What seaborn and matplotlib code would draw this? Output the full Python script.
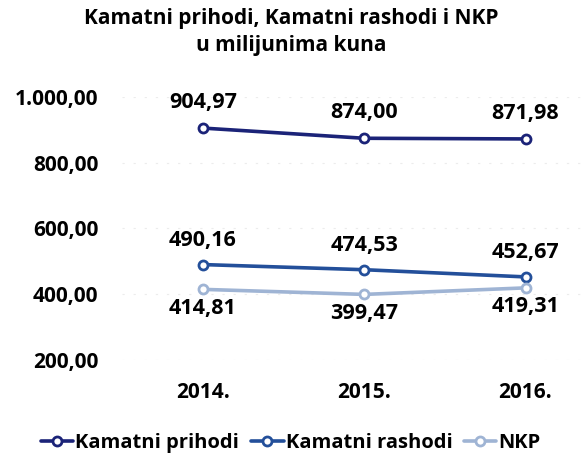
import matplotlib.pyplot as plt
import pandas as pd
import seaborn as sns

years = ["2014.", "2015.", "2016."]
prihodi = [904.97, 874.00, 871.98]
rashodi = [490.16, 474.53, 452.67]
nkp = [414.81, 399.47, 419.31]
series = ["Kamatni prihodi", "Kamatni rashodi", "NKP"]
colors = ["#1b2378", "#234f9a", "#9fb4d4"]
values = [prihodi, rashodi, nkp]


def fmt(v):
    s = f"{v:,.2f}"
    return s.replace(",", "X").replace(".", ",").replace("X", ".")


sns.set_style("white")
plt.rcParams["font.family"] = ["Open Sans", "DejaVu Sans"]
plt.rcParams["text.color"] = "black"
plt.rcParams["xtick.color"] = "black"
plt.rcParams["ytick.color"] = "black"

fig = plt.figure(figsize=(5.82, 4.61), dpi=100)
ax = fig.add_axes([0.21, 0.219, 0.79, 0.571])

for name, vals, col in zip(series, values, colors):
    df = pd.DataFrame({"godina": years, "iznos": vals})
    sns.lineplot(data=df, x="godina", y="iznos", color=col, marker="o", markersize=6.5,
                 markerfacecolor="white", markeredgecolor=col, markeredgewidth=2,
                 linewidth=2.6, ax=ax, sort=False)

ax.set_xlim(-0.5, 2.35)
ax.set_ylim(200, 1000)
ax.set_yticks([200, 400, 600, 800, 1000])
ax.set_yticklabels([fmt(v) for v in [200, 400, 600, 800, 1000]],
                   fontsize=15, fontweight="bold")
ax.set_xticks(range(3))
ax.set_xticklabels(years, fontsize=15, fontweight="bold")
ax.tick_params(axis="y", pad=17, length=0)
ax.tick_params(axis="x", pad=16, length=0)
ax.set_xlabel("")
ax.set_ylabel("")
for sp in ax.spines.values():
    sp.set_visible(False)
ax.grid(axis="y", color="#ececec", linestyle=(0, (2, 8)), linewidth=0.8)
ax.set_axisbelow(True)

for i in range(3):
    ax.annotate(fmt(prihodi[i]), (i, prihodi[i]), xytext=(0, 11), textcoords="offset points",
                ha="center", va="bottom", fontsize=15.5, fontweight="bold")
    ax.annotate(fmt(rashodi[i]), (i, rashodi[i]), xytext=(0, 10), textcoords="offset points",
                ha="center", va="bottom", fontsize=15.5, fontweight="bold")
    ax.annotate(fmt(nkp[i]), (i, nkp[i]), xytext=(0, -6), textcoords="offset points",
                ha="center", va="top", fontsize=15.5, fontweight="bold")

fig.text(0.5, 0.982, "Kamatni prihodi, Kamatni rashodi i NKP\nu milijunima kuna",
         ha="center", va="top", fontsize=15, fontweight="bold", linespacing=1.35)

handles = [plt.Line2D([], [], color=c, marker="o", markerfacecolor="white",
                      markeredgewidth=2, markersize=6.5, linewidth=2.6) for c in colors]
fig.legend(handles, series, loc="center", bbox_to_anchor=(0.5, 0.04), ncol=3,
           frameon=False, prop={"size": 14.5, "weight": "bold"},
           handlelength=1.6, handletextpad=0.1, columnspacing=0.6)

plt.savefig("out.png", dpi=100)
